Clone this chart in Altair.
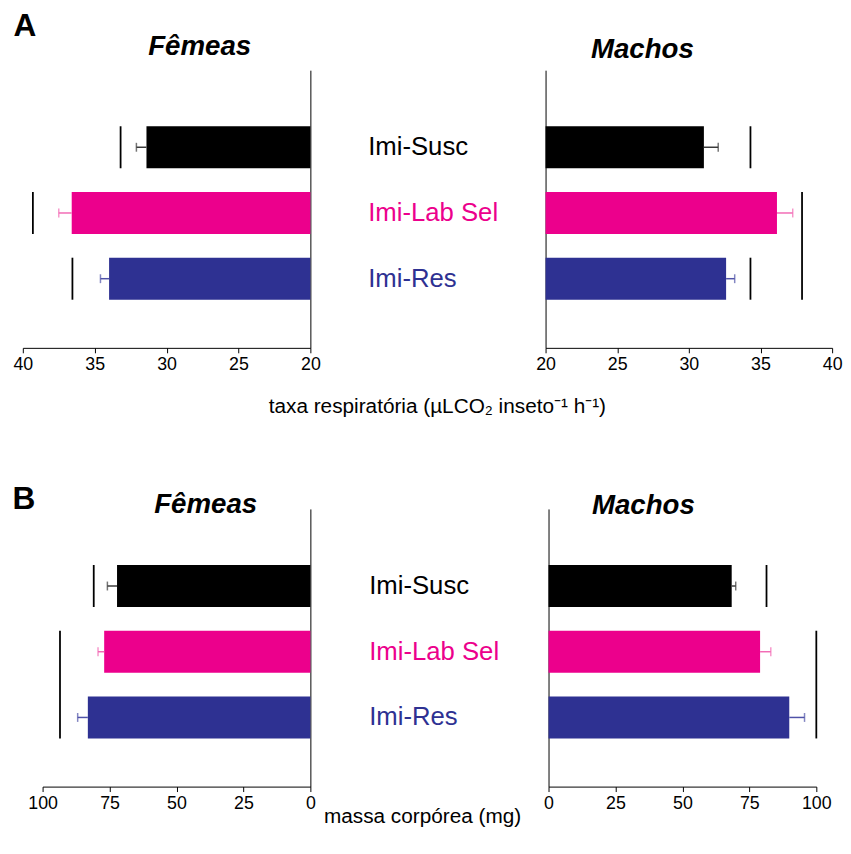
import altair as alt
import pandas as pd

# ---------------- data ----------------
categories = ["Imi-Susc", "Imi-Lab Sel", "Imi-Res"]
bar_colors = ["#000000", "#EC008C", "#2E3192"]
err_colors = ["#3a3a3a", "#F26BB5", "#4F52A8"]

# respiration rate (uL CO2 / insect / h)
resp_f_mean = [31.4, 36.6, 34.0]
resp_f_err = [0.7, 0.9, 0.6]
resp_m_mean = [31.05, 36.15, 32.6]
resp_m_err = [1.0, 1.1, 0.6]

# body mass (mg)
mass_f_mean = [72.2, 77.0, 83.1]
mass_f_err = [3.6, 2.3, 3.8]
mass_m_mean = [68.4, 79.0, 89.9]
mass_m_err = [1.5, 4.0, 5.7]

# significance lines: first group, last group, position
resp_f_sig_from = ["Imi-Susc", "Imi-Lab Sel", "Imi-Res"]
resp_f_sig_to = ["Imi-Susc", "Imi-Lab Sel", "Imi-Res"]
resp_f_sig_x = [33.2, 39.3, 36.55]
resp_m_sig_from = ["Imi-Susc", "Imi-Res", "Imi-Lab Sel"]
resp_m_sig_to = ["Imi-Susc", "Imi-Res", "Imi-Res"]
resp_m_sig_x = [34.3, 34.3, 37.9]
mass_f_sig_from = ["Imi-Susc", "Imi-Lab Sel"]
mass_f_sig_to = ["Imi-Susc", "Imi-Res"]
mass_f_sig_x = [80.9, 93.5]
mass_m_sig_from = ["Imi-Susc", "Imi-Lab Sel"]
mass_m_sig_to = ["Imi-Susc", "Imi-Res"]
mass_m_sig_x = [81.4, 100.0]

resp_ticks = [20, 25, 30, 35, 40]
mass_ticks = [0, 25, 50, 75, 100]

resp_title = "taxa respiratória (µLCO₂ inseto⁻¹ h⁻¹)"
mass_title = "massa corpórea (mg)"

# ---------------- styling ----------------
FONT = "Liberation Sans, Arial, sans-serif"

label_color = {
    "condition": [
        {"test": f"datum.value === '{c}'", "value": col}
        for c, col in zip(categories[:-1], bar_colors[:-1])
    ],
    "value": bar_colors[-1],
}


def panel(mean, err, sig_from, sig_to, sig_x, domain, ticks, base, width, xrange,
          left_side, title, title_dx, title_offset, label_padding=0, axis_offset=0,
          letter=None, letter_x=0, letter_y=0,
          xtitle=None, xtitle_x=0, xtitle_y=0):
    bars_df = pd.DataFrame({
        "cat": categories,
        "mean": mean,
        "hi": [m + e for m, e in zip(mean, err)],
        "fill": bar_colors,
        "ecol": err_colors,
    })
    sig_df = pd.DataFrame({"from": sig_from, "to": sig_to, "x": sig_x})

    yscale = alt.Scale(domain=categories, paddingInner=0.361,
                       paddingOuter=0.793, align=0.538)
    xscale = alt.Scale(domain=domain, range=xrange, nice=False, zero=False)

    xaxis_kw = dict(values=ticks, grid=False, tickSize=5, tickColor="black",
                    domainColor="black", labelFont=FONT, labelFontSize=18,
                    labelColor="black", labelPadding=3, labelFlush=False,
                    format="d")
    if xtitle:
        xaxis = alt.Axis(title=xtitle, titleX=xtitle_x, titleY=xtitle_y,
                         titleAlign="center", titleBaseline="alphabetic",
                         titleFont=FONT, titleFontSize=21,
                         titleFontWeight="normal", titleColor="black", **xaxis_kw)
    else:
        xaxis = alt.Axis(title=None, **xaxis_kw)

    if left_side:
        yaxis = alt.Axis(orient="right", title=letter, titleAngle=0,
                         titleX=letter_x, titleY=letter_y, titleAlign="left",
                         titleBaseline="top", titleFont=FONT,
                         titleFontSize=32, titleFontWeight="bold",
                         titleColor="black", labels=False, ticks=False,
                         domainColor="black", grid=False)
    else:
        yaxis = alt.Axis(orient="left", title=None, ticks=False, tickSize=0,
                         domainColor="black", grid=False, labelAlign="left",
                         labelPadding=label_padding, labelFont=FONT,
                         labelFontSize=26, labelColor=label_color,
                         labelLimit=0, labelBaseline="middle",
                         offset=axis_offset)

    ch = alt.Chart(bars_df)
    bars = ch.mark_bar().encode(
        x=alt.X("mean:Q", scale=xscale, axis=xaxis),
        x2=alt.X2Datum(base),
        y=alt.Y("cat:N", scale=yscale, axis=yaxis, sort=categories),
        color=alt.Color("fill:N", scale=None),
    )
    err_line = ch.mark_rule(strokeWidth=1.5).encode(
        x=alt.X("mean:Q", scale=xscale, axis=xaxis),
        x2="hi:Q",
        y=alt.Y("cat:N", scale=yscale, axis=yaxis, sort=categories),
        color=alt.Color("ecol:N", scale=None),
    )
    err_cap = ch.mark_tick(thickness=1.5, size=9).encode(
        x=alt.X("hi:Q", scale=xscale, axis=xaxis),
        y=alt.Y("cat:N", scale=yscale, axis=yaxis, sort=categories),
        color=alt.Color("ecol:N", scale=None),
    )
    sig = alt.Chart(sig_df).mark_rule(color="black", strokeWidth=1.8).encode(
        x=alt.X("x:Q", scale=xscale, axis=xaxis),
        y=alt.Y("from:N", bandPosition=0, scale=yscale, axis=yaxis, sort=categories),
        y2=alt.Y2("to:N", bandPosition=1),
    )
    return alt.layer(bars, err_line, err_cap, sig).properties(
        width=width,
        height=281,
        title=alt.TitleParams(title, font=FONT, fontSize=28, fontStyle="italic",
                              fontWeight="bold", anchor="middle", dx=title_dx,
                              offset=title_offset, color="black"),
    )


leftA = panel(resp_f_mean, resp_f_err, resp_f_sig_from, resp_f_sig_to, resp_f_sig_x,
              [20, 40], resp_ticks, 20, 300, [300, 9], True, "Fêmeas", 38, -52,
              letter="A", letter_x=-301, letter_y=-60,
              xtitle=resp_title, xtitle_x=428, xtitle_y=65)
rightA = panel(resp_m_mean, resp_m_err, resp_m_sig_from, resp_m_sig_to, resp_m_sig_x,
               [20, 40], resp_ticks, 20, 290, [0, 290], False, "Machos", -47, 6,
               label_padding=180)
leftB = panel(mass_f_mean, mass_f_err, mass_f_sig_from, mass_f_sig_to, mass_f_sig_x,
              [0, 100], mass_ticks, 0, 300, [300, 29], True, "Fêmeas", 44, -36,
              letter="B", letter_x=-302, letter_y=-25,
              xtitle=mass_title, xtitle_x=413, xtitle_y=36)
rightB = panel(mass_m_mean, mass_m_err, mass_m_sig_from, mass_m_sig_to, mass_m_sig_x,
               [0, 100], mass_ticks, 0, 274, [3, 274], False, "Machos", -38, -11,
               label_padding=182, axis_offset=-3)

chart = alt.concat(
    leftA, rightA, leftB, rightB,
    columns=2, bounds="flush", spacing={"row": 163, "column": 238},
).properties(
    padding={"left": 4, "top": -3, "right": 0, "bottom": 0}
).configure(font=FONT).configure_view(strokeWidth=0, stroke="transparent")

chart.save("out.html", embed_options={"renderer": "svg", "actions": False})
